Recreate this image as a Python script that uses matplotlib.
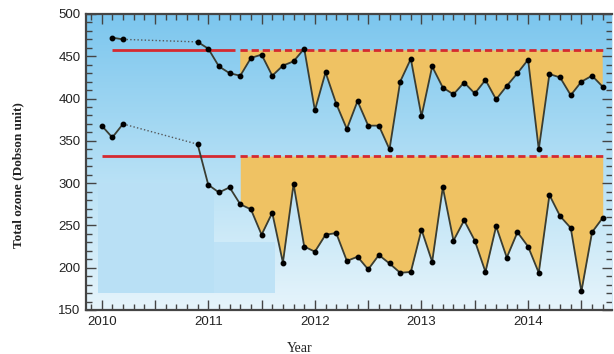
import numpy as np
import matplotlib
matplotlib.use("Agg")
import matplotlib.pyplot as plt
from matplotlib.colors import LinearSegmentedColormap
from matplotlib.patches import Rectangle

# Time axis (decimal years) for each observation
upper_t = [2010.1, 2010.2, 2010.9, 2011.0, 2011.1, 2011.2, 2011.3, 2011.4,
           2011.5, 2011.6, 2011.7, 2011.8, 2011.9, 2012.0, 2012.1, 2012.2,
           2012.3, 2012.4, 2012.5, 2012.6, 2012.7, 2012.8, 2012.9, 2013.0,
           2013.1, 2013.2, 2013.3, 2013.4, 2013.5, 2013.6, 2013.7, 2013.8,
           2013.9, 2014.0, 2014.1, 2014.2, 2014.3, 2014.4, 2014.5, 2014.6,
           2014.7]
upper_v = [472, 470, 467, 459, 438, 430, 427, 448, 452, 427, 439, 444, 459,
           386, 431, 394, 364, 397, 368, 368, 340, 420, 447, 379, 438, 413,
           405, 419, 406, 422, 399, 415, 430, 446, 340, 429, 425, 404, 420,
           427, 414]

lower_t = [2010.0, 2010.1, 2010.2, 2010.9, 2011.0, 2011.1, 2011.2, 2011.3,
           2011.4, 2011.5, 2011.6, 2011.7, 2011.8, 2011.9, 2012.0, 2012.1,
           2012.2, 2012.3, 2012.4, 2012.5, 2012.6, 2012.7, 2012.8, 2012.9,
           2013.0, 2013.1, 2013.2, 2013.3, 2013.4, 2013.5, 2013.6, 2013.7,
           2013.8, 2013.9, 2014.0, 2014.1, 2014.2, 2014.3, 2014.4, 2014.5,
           2014.6, 2014.7]
lower_v = [368, 354, 370, 346, 298, 289, 295, 275, 269, 239, 265, 206, 299,
           225, 219, 239, 241, 208, 213, 198, 215, 205, 194, 195, 245, 207,
           295, 232, 256, 232, 195, 249, 212, 242, 225, 194, 286, 261, 247,
           172, 242, 259]

# Reference levels
upper_ref = 457
lower_ref = 332
ref_break = 2011.25      # solid before, dashed after
fill_start = 2011.3

year_labels = ["2010", "2011", "2012", "2013", "2014"]

W, H = 614, 354
fig = plt.figure(figsize=(W / 100, H / 100), dpi=100)
ax = fig.add_axes([86 / W, 1 - 310 / H, (612 - 86) / W, (310 - 14) / H])
xmin, xmax = 2009.853, 2014.787
ymin, ymax = 150, 500
ax.set_xlim(xmin, xmax)
ax.set_ylim(ymin, ymax)

# Sky-blue vertical gradient background
sky = LinearSegmentedColormap.from_list(
    "sky", ["#e6f4fb", "#c4e6f7", "#9fd6f2", "#7cc6ee"])
grad = np.linspace(0, 1, 256).reshape(-1, 1)
ax.imshow(grad, cmap=sky, aspect="auto", origin="lower",
          extent=[xmin, xmax, ymin, ymax], zorder=0)
# Flat light patches in the lower-left
ax.add_patch(Rectangle((2009.97, 170), 1.08, 130, color="#b9e0f5", lw=0, zorder=0.5))
ax.add_patch(Rectangle((2011.05, 170), 0.58, 60, color="#bee2f6", lw=0, zorder=0.5))


def draw_series(t, v, ref, start_ref):
    t = np.asarray(t)
    v = np.asarray(v, dtype=float)
    line_c = "#3a3d32"
    # shaded departure below the reference level
    m = t >= fill_start - 1e-9
    ax.fill_between(t[m], v[m], ref, where=v[m] <= ref, interpolate=True,
                    color="#efc263", lw=0, zorder=1)
    # reference level: solid then dashed
    ax.plot([start_ref, ref_break], [ref, ref], color="#d52a30", lw=2,
            solid_capstyle="butt", zorder=2)
    ax.plot([fill_start, t[-1]], [ref, ref], color="#d52a30", lw=2,
            linestyle=(0, (2.6, 1.4)), dash_capstyle="butt", zorder=2)
    # early points, dotted gap, later points
    gap = int(np.argmax(np.diff(t) > 0.3))
    ax.plot(t[:gap + 1], v[:gap + 1], color=line_c, lw=1.3, zorder=3)
    ax.plot(t[gap:gap + 2], v[gap:gap + 2], color="#55585a", lw=1.0,
            linestyle=(0, (1, 1.6)), zorder=3)
    ax.plot(t[gap + 1:], v[gap + 1:], color=line_c, lw=1.3, zorder=3)
    ax.plot(t, v, "o", color="black", ms=3.2, zorder=4)


draw_series(upper_t, upper_v, upper_ref, 2010.1)
draw_series(lower_t, lower_v, lower_ref, 2010.0)

# Ticks
major_x = np.arange(2010, 2014.75, 0.5)
ax.set_xticks(major_x)
ax.set_xticklabels([str(int(x)) if abs(x - round(x)) < 1e-6 else "" for x in major_x])
ax.set_xticks(np.arange(2009.9, 2014.8, 0.1), minor=True)
ax.set_yticks(np.arange(150, 501, 50))
ax.set_yticks(np.arange(150, 501, 10), minor=True)
ax.tick_params(which="both", direction="in", top=True, right=True,
               color="#444444", width=1.0)
ax.tick_params(which="major", length=7, labelsize=9.5, pad=4)
ax.tick_params(which="minor", length=4)
for lab in ax.get_xticklabels() + ax.get_yticklabels():
    lab.set_family("Liberation Sans")
    lab.set_color("#222222")

for side in ["left", "bottom", "top"]:
    ax.spines[side].set_color("#454545")
    ax.spines[side].set_linewidth(1.6)
ax.spines["right"].set_color("#cfe9f7")
ax.spines["right"].set_linewidth(0.8)

fig.text(300 / W, 1 - 348 / H, "Year", family="Liberation Serif",
         fontsize=10, ha="center", va="center", color="#222222")
fig.text(18 / W, 1 - 175 / H, "Total ozone (Dobson unit)",
         family="Liberation Serif", fontweight="bold", fontsize=9.5,
         rotation=90, ha="center", va="center", color="#222222")

fig.savefig("out.png", dpi=100)
